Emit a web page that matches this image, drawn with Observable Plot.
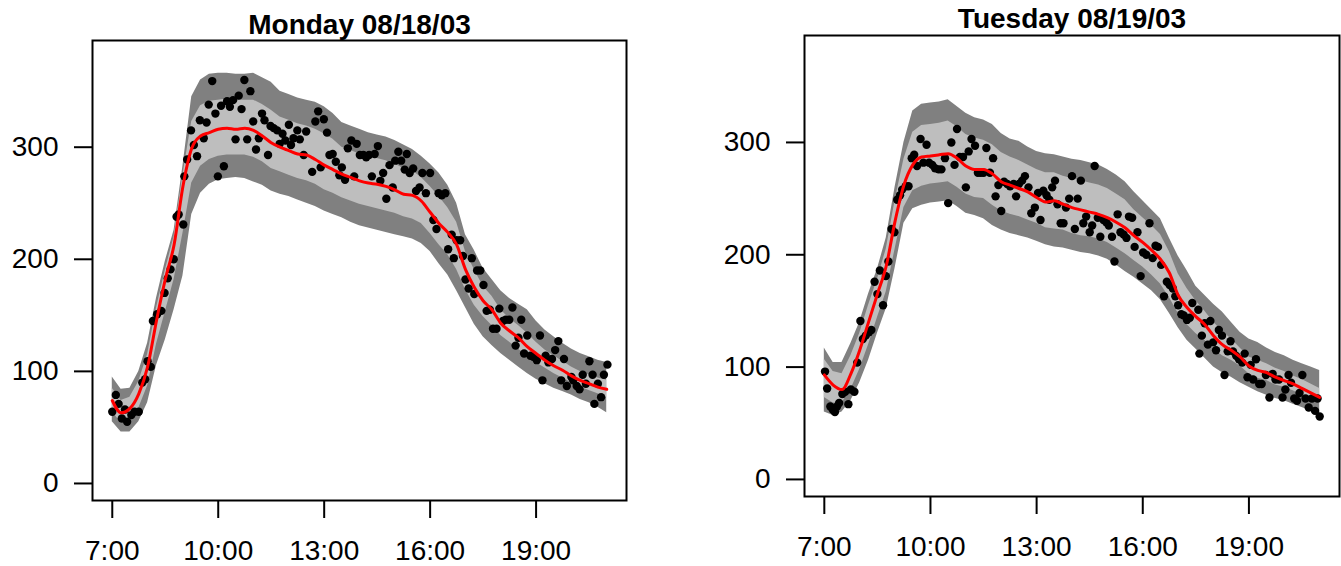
<!DOCTYPE html>
<html>
<head>
<meta charset="utf-8">
<script src="https://cdn.jsdelivr.net/npm/d3@7"></script>
<script src="https://cdn.jsdelivr.net/npm/@observablehq/plot@0.6"></script>
<style>
  html, body { margin: 0; padding: 0; background: #fff; }
  #wrap { position: relative; width: 1341px; height: 566px; overflow: hidden; background: #fff; }
  #left { position: absolute; left: 0; top: 0; }
  #right { position: absolute; left: 670px; top: 0; }
</style>
</head>
<body>
<div id="wrap"><div id="left"></div><div id="right"></div></div>
<script>
// ---------- data ----------
const titles = ["Monday 08/18/03", "Tuesday 08/19/03"];
const xTickLabels = ["7:00", "10:00", "13:00", "16:00", "19:00"];
const yTicks = [0, 100, 200, 300];

const bandTimes = ["7:00","7:15","7:30","7:45","8:00","8:15","8:30","8:45","9:00","9:15","9:30","9:45",
  "10:00","10:15","10:30","10:45","11:00","11:15","11:30","11:45","12:00","12:15","12:30","12:45",
  "13:00","13:15","13:30","13:45","14:00","14:15","14:30","14:45","15:00","15:15","15:30","15:45",
  "16:00","16:15","16:30","16:45","17:00","17:15","17:30","17:45","18:00","18:15","18:30","18:45",
  "19:00","19:15","19:30","19:45","20:00","20:15","20:30","20:45","21:00"];

// Monday
const monLine = [74,63,67,80,104,145,182,213,265,299,310,313,316,317,316,317,315,310,304,300,297,294,293,289,284,280,276,273,270,268,267,265,262,258,257,252,242,232,224,213,191,175,163,155,143,136,130,122,116,110,105,101,96,92,89,86,84];
const monOuterHi = [95,84,85,100,125,165,198,226,283,345,360,365,366,366,365,365,366,362,358,350,347,344,342,340,336,330,322,319,316,313,311,309,306,302,298,292,285,277,266,250,222,208,192,182,172,165,160,155,145,137,131,125,120,116,113,110,108];
const monOuterLo = [55,46,46,55,72,105,128,155,185,240,259,267,271,272,273,272,269,266,261,258,256,253,250,247,243,240,237,233,230,228,226,224,222,220,218,214,207,196,186,172,157,142,131,123,116,110,104,98,93,89,85,82,79,75,72,68,63];
const monInnerHi = [85,74,77,91,115,156,190,220,275,323,337,341,342,343,342,342,342,338,333,327,324,321,319,316,312,307,300,297,294,292,290,288,285,281,279,273,265,256,246,233,207,191,176,167,155,147,141,134,126,119,114,109,104,100,97,94,92];
const monInnerLo = [64,54,56,67,87,124,153,182,223,268,283,289,292,293,293,293,291,287,281,278,275,272,270,267,262,259,255,252,249,247,245,243,241,238,236,232,223,213,204,191,173,159,149,141,132,126,120,113,108,103,98,94,90,86,83,80,77];

const monDotT = [7.00,7.10,7.18,7.27,7.36,7.42,7.54,7.63,7.75,7.85,7.93,8.00,8.09,8.15,8.27,8.39,8.48,8.57,8.65,8.74,
  8.82,8.88,9.01,9.04,9.12,9.23,9.31,9.40,9.48,9.59,9.67,9.73,9.83,9.92,9.99,10.08,10.16,10.25,10.33,10.42,
  10.49,10.58,10.66,10.74,10.82,10.91,10.99,11.07,11.15,11.24,11.31,11.41,11.48,11.57,11.67,11.74,11.82,11.90,12.00,12.06,
  12.13,12.24,12.31,12.42,12.49,12.66,12.75,12.83,12.90,12.99,13.08,13.15,13.24,13.33,13.43,13.50,13.59,13.67,13.77,13.85,
  13.92,14.01,14.11,14.19,14.27,14.35,14.43,14.52,14.59,14.67,14.76,14.85,14.94,15.01,15.10,15.18,15.28,15.34,15.42,15.52,
  15.60,15.70,15.78,15.88,16.00,16.09,16.18,16.24,16.33,16.43,16.51,16.61,16.67,16.75,16.85,16.93,17.00,17.09,17.18,17.25,
  17.33,17.42,17.51,17.60,17.69,17.78,17.88,17.96,18.06,18.14,18.24,18.33,18.42,18.50,18.58,18.66,18.75,18.84,18.92,19.02,
  19.11,19.18,19.27,19.35,19.45,19.54,19.63,19.71,19.79,19.87,20.00,20.05,20.15,20.23,20.32,20.41,20.51,20.60,20.65,20.75,
  20.84,20.92,21.02];
const monDotV = [64,79,71,58,66,55,61,64,64,90,93,109,104,145,151,154,170,183,191,200,
  238,240,231,274,289,315,302,292,324,308,322,338,359,330,274,337,283,341,336,342,
  307,346,334,360,307,350,323,298,308,330,324,293,319,317,315,303,312,306,320,302,
  308,315,307,293,314,278,323,332,282,325,313,293,294,287,275,282,271,299,306,274,
  303,293,293,291,293,274,294,301,270,277,254,284,264,288,296,288,280,294,277,281,
  261,264,277,259,277,235,227,259,257,259,209,222,201,217,217,203,182,174,201,169,
  190,190,177,154,155,138,138,156,145,146,146,157,123,130,146,116,132,114,113,110,
  132,92,114,108,111,119,127,92,111,87,95,92,87,84,97,89,109,97,71,89,
  77,97,106];

// Tuesday
const tueLine = [93,84,80,94,115,140,165,190,230,262,280,287,288,289,290,286,279,276,276,272,265,262,259,256,251,247,248,245,242,240,238,236,233,229,224,217,211,204,196,184,164,153,145,138,128,120,115,109,101,97,95,91,88,85,81,77,73];
const tueOuterHi = [117,104,104,121,140,165,187,215,260,300,328,334,335,336,338,332,326,322,320,316,308,303,301,296,292,290,289,287,285,284,282,280,276,271,265,256,248,240,232,215,199,186,172,164,156,149,140,131,125,122,117,113,110,106,103,100,97];
const tueOuterLo = [60,57,60,70,86,106,130,152,188,228,241,244,246,247,248,243,237,235,232,226,222,219,217,215,212,209,207,206,204,202,201,199,196,191,185,180,174,168,160,148,135,124,116,108,100,95,91,86,82,78,75,72,70,67,64,61,58];
const tueInnerHi = [107,96,94,110,130,155,178,205,248,285,309,315,316,317,319,314,307,304,302,298,291,287,284,280,276,273,273,270,268,266,264,262,259,254,249,240,233,226,218,203,183,170,159,150,140,132,125,117,109,106,103,99,96,92,89,85,81];
const tueInnerLo = [73,68,68,80,98,120,144,167,205,242,257,261,263,264,265,260,254,251,250,244,239,236,234,231,228,224,223,222,219,217,216,214,211,206,201,195,189,182,174,162,148,138,130,124,116,110,106,101,94,90,88,84,82,79,75,71,68];

const tueDotT = [7.02,7.08,7.17,7.24,7.30,7.36,7.42,7.51,7.59,7.68,7.75,7.85,7.93,8.02,8.09,8.17,8.26,8.33,8.42,8.50,
  8.57,8.66,8.74,8.81,8.90,8.98,9.06,9.14,9.20,9.30,9.38,9.47,9.54,9.62,9.72,9.80,9.89,9.96,10.05,10.13,
  10.23,10.31,10.41,10.50,10.59,10.68,10.75,10.83,10.92,11.00,11.08,11.16,11.26,11.34,11.42,11.50,11.58,11.68,11.77,11.84,
  11.92,12.00,12.08,12.17,12.25,12.35,12.42,12.50,12.59,12.67,12.77,12.85,12.95,13.04,13.11,13.19,13.28,13.36,13.44,13.52,
  13.59,13.68,13.76,13.83,13.92,14.00,14.08,14.16,14.25,14.32,14.40,14.50,14.57,14.64,14.73,14.80,14.89,14.97,15.04,15.13,
  15.20,15.29,15.37,15.46,15.54,15.61,15.70,15.77,15.85,15.94,16.01,16.10,16.19,16.28,16.36,16.43,16.52,16.60,16.68,16.76,
  16.85,16.92,17.00,17.09,17.16,17.25,17.33,17.40,17.60,17.57,17.67,17.75,17.84,17.91,17.99,18.07,18.15,18.24,18.31,18.40,
  18.48,18.55,18.64,18.72,18.81,18.88,18.96,19.05,19.12,19.20,19.29,19.36,19.48,19.58,19.67,19.75,19.85,19.95,20.03,20.12,
  20.19,20.28,20.36,20.43,20.51,20.60,20.69,20.78,20.87,20.94,21.00];
const tueDotV = [96,81,65,62,60,65,68,76,78,67,80,78,104,141,125,128,131,133,176,165,
  186,155,181,194,223,220,249,253,258,261,261,286,289,279,303,282,298,282,280,277,
  276,276,286,246,300,280,312,287,287,260,292,303,297,273,273,273,295,273,286,252,
  262,239,265,263,261,263,252,263,266,270,260,237,242,255,231,257,253,249,260,266,
  245,228,228,242,250,270,223,250,266,228,234,220,226,279,233,216,231,229,226,216,
  194,236,220,218,215,234,233,207,220,181,202,200,228,197,208,207,191,163,176,173,
  170,163,155,147,146,142,144,157,112,151,128,139,120,141,122,115,133,128,93,114,
  123,114,110,107,104,112,91,102,89,107,85,85,93,73,94,89,89,73,80,93,
  86,72,70,77,93,72,64,72,61,72,56];

// ---------- drawing ----------
const hours = s => { const [h, m] = s.split(":").map(Number); return h + m / 60; };
const xTicks = xTickLabels.map(hours);
const FONT = "'Liberation Sans', Arial, Helvetica, sans-serif";

function panel(cfg) {
  const band = bandTimes.map((s, i) => ({
    t: hours(s), line: cfg.line[i], il: cfg.innerLo[i], ih: cfg.innerHi[i], ol: cfg.outerLo[i], oh: cfg.outerHi[i]
  }));
  const dots = cfg.dotT.map((t, i) => ({t, v: cfg.dotV[i]}));
  return Plot.plot({
    width: cfg.width, height: 566,
    marginLeft: cfg.marginLeft, marginRight: cfg.marginRight,
    marginTop: cfg.marginTop, marginBottom: cfg.marginBottom,
    style: {fontFamily: FONT, fontSize: "28px", background: "white", color: "black", overflow: "visible"},
    x: {domain: [6.44, 21.56], label: null},
    y: {domain: [-15.2, 395.2], label: null},
    marks: [
      Plot.areaY(band, {x: "t", y1: "ol", y2: "oh", fill: "#808080"}),
      Plot.areaY(band, {x: "t", y1: "il", y2: "ih", fill: "#BEBEBE"}),
      Plot.dot(dots, {x: "t", y: "v", r: 4.2, fill: "black", stroke: "none"}),
      Plot.line(band, {x: "t", y: "line", stroke: "#FF0000", strokeWidth: 3, curve: "monotone-x"}),
      Plot.frame({stroke: "black", strokeWidth: 2}),
      Plot.axisX(xTicks, {tickFormat: d => xTickLabels[xTicks.indexOf(d)], tickSize: 18, tickPadding: 22, strokeWidth: 2, label: null}),
      Plot.axisY(yTicks, {tickSize: 18, tickPadding: 16, strokeWidth: 2, label: null}),
      Plot.text([cfg.title], {text: d => d, frameAnchor: "top", dy: cfg.titleDy, lineAnchor: "bottom",
        fontWeight: "bold", fontSize: 28, fill: "black"})
    ]
  });
}

document.getElementById("left").append(panel({
  title: titles[0], titleDy: -7,
  line: monLine, innerLo: monInnerLo, innerHi: monInnerHi, outerLo: monOuterLo, outerHi: monOuterHi,
  dotT: monDotT, dotV: monDotV,
  width: 670, marginLeft: 92, marginRight: 44, marginTop: 40, marginBottom: 66
}));
document.getElementById("right").append(panel({
  title: titles[1], titleDy: -8,
  line: tueLine, innerLo: tueInnerLo, innerHi: tueInnerHi, outerLo: tueOuterLo, outerHi: tueOuterHi,
  dotT: tueDotT, dotV: tueDotV,
  width: 671, marginLeft: 134, marginRight: 2, marginTop: 35, marginBottom: 70
}));
</script>
</body>
</html>
